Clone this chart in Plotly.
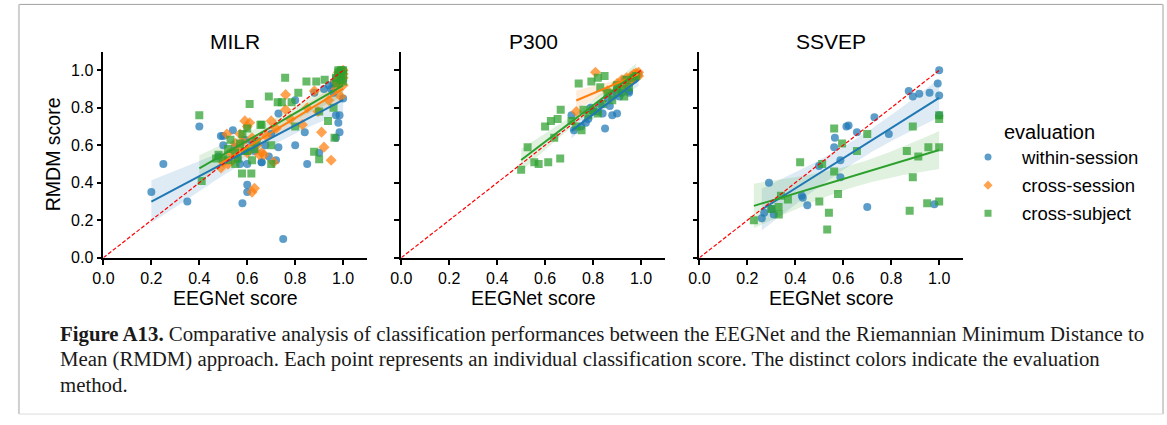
import numpy as np
import plotly.graph_objects as go

W, H = 1167, 425

# ---------------- data ----------------
panels = ["MILR", "P300", "SSVEP"]
evaluations = ["within-session", "cross-session", "cross-subject"]

milr_within_x = [0.20, 0.25, 0.35, 0.40, 0.48, 0.49, 0.50, 0.50, 0.54, 0.55, 0.58, 0.59, 0.60, 0.60, 0.60, 0.57,
                 0.66, 0.69, 0.66, 0.675, 0.72, 0.73, 0.73, 0.75, 0.80, 0.80, 0.84, 0.85, 0.90, 0.97, 0.985, 0.98,
                 0.985, 0.97, 1.00, 0.95, 0.98, 1.00, 0.96, 0.62, 0.70, 0.63, 0.56,
                 0.99, 1.00, 0.98, 0.97, 1.00, 0.99, 0.96, 0.94, 0.92, 0.88]
milr_within_y = [0.35, 0.50, 0.30, 0.70, 0.54, 0.65, 0.60, 0.65, 0.68, 0.59, 0.29, 0.63, 0.39, 0.35, 0.50, 0.50,
                 0.51, 0.54, 0.51, 0.60, 0.52, 0.59, 0.77, 0.10, 0.60, 0.84, 0.67, 0.50, 0.56, 0.76, 0.76, 0.72,
                 0.67, 0.64, 0.85, 0.90, 0.93, 0.97, 0.88, 0.62, 0.66, 0.57, 0.53,
                 0.99, 1.00, 0.98, 0.96, 0.95, 0.97, 0.93, 0.92, 0.90, 0.88]
milr_cross_session_x = [0.50, 0.515, 0.55, 0.59, 0.61, 0.60, 0.62, 0.63, 0.65, 0.66, 0.67, 0.70, 0.71, 0.76, 0.76,
                        0.83, 0.88, 0.895, 0.91, 0.92, 0.94, 0.95, 0.97, 0.98, 0.99, 1.00, 0.99, 1.00, 0.98, 0.56,
                        0.58, 0.60, 0.53, 0.64, 0.68, 0.72, 0.78, 0.85, 0.62, 0.57,
                        1.00, 0.99, 0.98, 1.00, 0.97, 0.49, 0.52, 0.54]
milr_cross_session_y = [0.51, 0.66, 0.61, 0.73, 0.72, 0.70, 0.35, 0.37, 0.55, 0.56, 0.55, 0.73, 0.51, 0.87, 0.79,
                        0.71, 0.89, 0.78, 0.67, 0.59, 0.84, 0.52, 0.90, 0.93, 0.95, 0.98, 0.86, 0.92, 0.97, 0.58,
                        0.62, 0.56, 0.56, 0.60, 0.65, 0.69, 0.74, 0.80, 0.64, 0.66,
                        1.00, 0.98, 0.99, 0.96, 0.94, 0.48, 0.50, 0.52]
milr_cross_subject_x = [0.40, 0.41, 0.48, 0.50, 0.52, 0.53, 0.55, 0.55, 0.57, 0.578, 0.58, 0.60, 0.61, 0.617, 0.60,
                        0.62, 0.63, 0.655, 0.66, 0.69, 0.70, 0.70, 0.727, 0.744, 0.758, 0.785, 0.80, 0.813, 0.847,
                        0.879, 0.888, 0.90, 0.923, 0.937, 0.964, 0.97, 0.98, 0.99, 1.00, 0.99, 1.00, 0.98, 0.97,
                        0.99, 1.00, 0.96, 0.90, 0.52, 0.56, 0.59, 0.64, 0.47]
milr_cross_subject_y = [0.76, 0.41, 0.55, 0.53, 0.58, 0.63, 0.50, 0.56, 0.61, 0.45, 0.66, 0.69, 0.82, 0.45, 0.57,
                        0.52, 0.58, 0.71, 0.71, 0.86, 0.60, 0.50, 0.83, 0.83, 0.96, 0.83, 0.70, 0.88, 0.94,
                        0.565, 0.94, 0.525, 0.95, 0.73, 0.64, 0.96, 0.99, 1.00, 1.00, 0.97, 0.98, 1.00, 0.93,
                        0.95, 0.94, 0.80, 0.78, 0.52, 0.53, 0.57, 0.62, 0.53]

p300_within_x = [0.71, 0.72, 0.75, 0.78, 0.80, 0.82, 0.84, 0.85, 0.87, 0.88, 0.90, 0.83, 0.86, 0.88, 0.90, 0.92,
                 0.95, 0.95, 0.93, 0.96, 0.98, 0.99, 0.97, 0.94, 0.91, 0.79, 0.77]
p300_within_y = [0.76, 0.68, 0.70, 0.74, 0.78, 0.78, 0.77, 0.69, 0.81, 0.76, 0.77, 0.82, 0.85, 0.87, 0.90, 0.88,
                 0.89, 0.88, 0.95, 0.96, 0.97, 0.98, 0.95, 0.92, 0.86, 0.80, 0.72]
p300_cross_session_x = [0.73, 0.81, 0.86, 0.90, 0.92, 0.94, 0.95, 0.96, 0.97, 0.98, 0.99, 0.97, 0.98, 0.96, 0.99, 0.93]
p300_cross_session_y = [0.78, 0.99, 0.89, 0.93, 0.95, 0.96, 0.95, 0.97, 0.98, 0.97, 0.99, 0.96, 0.985, 0.94, 0.97, 0.92]
p300_cross_subject_x = [0.50, 0.527, 0.555, 0.573, 0.60, 0.613, 0.624, 0.638, 0.652, 0.663, 0.665, 0.71, 0.73, 0.74,
                        0.752, 0.793, 0.82, 0.83, 0.848, 0.80, 0.82, 0.84, 0.86, 0.88, 0.90, 0.92, 0.94, 0.95,
                        0.97, 0.98, 0.76, 0.78, 0.90, 0.93]
p300_cross_subject_y = [0.47, 0.59, 0.51, 0.50, 0.70, 0.51, 0.73, 0.64, 0.74, 0.53, 0.79, 0.73, 0.70, 0.93,
                        0.68, 0.94, 0.96, 0.91, 0.97, 0.79, 0.77, 0.82, 0.88, 0.84, 0.92, 0.90, 0.95, 0.91,
                        0.96, 0.97, 0.79, 0.76, 0.88, 0.86]

ssvep_within_x = [0.26, 0.27, 0.29, 0.30, 0.31, 0.427, 0.431, 0.45, 0.499, 0.562, 0.565, 0.588, 0.588, 0.613, 0.622,
                  0.657, 0.70, 0.73, 0.79, 0.873, 0.89, 0.917, 0.96, 0.98, 1.00, 0.994, 1.00, 1.00]
ssvep_within_y = [0.21, 0.24, 0.40, 0.26, 0.23, 0.33, 0.32, 0.28, 0.49, 0.59, 0.64, 0.52, 0.43, 0.70, 0.705,
                  0.67, 0.27, 0.75, 0.66, 0.89, 0.86, 0.875, 0.88, 0.285, 1.00, 0.93, 0.865, 0.76]
ssvep_cross_session_x = []
ssvep_cross_session_y = []
ssvep_cross_subject_x = [0.227, 0.331, 0.34, 0.369, 0.42, 0.50, 0.512, 0.533, 0.54, 0.562, 0.562, 0.578, 0.595, 0.657,
                         0.70, 0.865, 0.877, 0.89, 0.89, 0.913, 0.95, 0.955, 1.00, 1.00, 1.00, 0.30, 0.33, 1.00]
ssvep_cross_subject_y = [0.20, 0.23, 0.33, 0.31, 0.51, 0.30, 0.50, 0.15, 0.24, 0.46, 0.69, 0.34, 0.61, 0.57,
                         0.66, 0.57, 0.25, 0.70, 0.43, 0.54, 0.29, 0.59, 0.74, 0.59, 0.30, 0.26, 0.27, 0.76]

data = {
    "MILR": [(milr_within_x, milr_within_y), (milr_cross_session_x, milr_cross_session_y),
             (milr_cross_subject_x, milr_cross_subject_y)],
    "P300": [(p300_within_x, p300_within_y), (p300_cross_session_x, p300_cross_session_y),
             (p300_cross_subject_x, p300_cross_subject_y)],
    "SSVEP": [(ssvep_within_x, ssvep_within_y), (ssvep_cross_session_x, ssvep_cross_session_y),
              (ssvep_cross_subject_x, ssvep_cross_subject_y)],
}

tick_vals = [0.0, 0.2, 0.4, 0.6, 0.8, 1.0]
tick_text = ["0.0", "0.2", "0.4", "0.6", "0.8", "1.0"]

caption_lines = [
    "<b>Figure A13.</b> Comparative analysis of classification performances between the EEGNet and the Riemannian Minimum Distance to",
    "Mean (RMDM) approach. Each point represents an individual classification score. The distinct colors indicate the evaluation",
    "method.",
]

# ---------------- styling ----------------
colors = ["#1f77b4", "#ff7f0e", "#2ca02c"]
fills = ["rgba(31,119,180,0.15)", "rgba(255,127,14,0.15)", "rgba(44,160,44,0.15)"]
symbols = ["circle", "diamond", "square"]
sizes = [8, 8.5, 8]
FONT = "Liberation Sans, Arial, sans-serif"

# pixel layout
x0_px = [93.3, 394.0, 695.0]
unit_x = 242.0
y0_px = 263.3
unit_y = 191.5
XMAX = 1.1


def dom_x(i):
    return [x0_px[i] / W, (x0_px[i] + XMAX * unit_x) / W]


dom_y = [1 - y0_px / H, 1 - (y0_px - XMAX * unit_y) / H]

fig = go.Figure()


def fit_band(x, y):
    x = np.asarray(x, float)
    y = np.asarray(y, float)
    n = len(x)
    b, a = np.polyfit(x, y, 1)
    xs = np.linspace(x.min(), x.max(), 100)
    yhat = a + b * xs
    resid = y - (a + b * x)
    s = np.sqrt(np.sum(resid ** 2) / (n - 2))
    sxx = np.sum((x - x.mean()) ** 2)
    se = s * np.sqrt(1.0 / n + (xs - x.mean()) ** 2 / sxx)
    t = 2.0
    return xs, yhat, yhat - t * se, yhat + t * se


for i, p in enumerate(panels):
    xa = "x" if i == 0 else f"x{i+1}"
    ya = "y" if i == 0 else f"y{i+1}"
    for k, (xv, yv) in enumerate(data[p]):
        if len(xv) < 3:
            continue
        xs, yh, lo, hi = fit_band(xv, yv)
        fig.add_trace(go.Scatter(x=np.concatenate([xs, xs[::-1]]), y=np.concatenate([hi, lo[::-1]]),
                                 fill="toself", fillcolor=fills[k], line=dict(width=0), mode="lines",
                                 hoverinfo="skip", showlegend=False, xaxis=xa, yaxis=ya))
    for k, (xv, yv) in enumerate(data[p]):
        if len(xv) == 0:
            continue
        fig.add_trace(go.Scatter(x=xv, y=yv, mode="markers",
                                 marker=dict(symbol=symbols[k], size=sizes[k], color=colors[k], opacity=0.72,
                                             line=dict(width=0)),
                                 showlegend=False, xaxis=xa, yaxis=ya))
    for k, (xv, yv) in enumerate(data[p]):
        if len(xv) < 3:
            continue
        xs, yh, lo, hi = fit_band(xv, yv)
        fig.add_trace(go.Scatter(x=xs, y=yh, mode="lines", line=dict(color=colors[k], width=2),
                                 showlegend=False, xaxis=xa, yaxis=ya))
    fig.add_trace(go.Scatter(x=[0, 1], y=[0, 1], mode="lines",
                             line=dict(color="red", width=1.2, dash="4px,2px"),
                             showlegend=False, xaxis=xa, yaxis=ya))

# legend entries
for k, name in enumerate(evaluations):
    fig.add_trace(go.Scatter(x=[None], y=[None], mode="markers", name=name, legendgroup=name,
                             marker=dict(symbol=symbols[k], size=7, color=colors[k], opacity=0.72,
                                         line=dict(width=0)),
                             xaxis="x", yaxis="y"))

axis_common = dict(range=[0, XMAX], showline=True, linecolor="black", linewidth=1.8, ticks="outside",
                   ticklen=5, tickwidth=1.6, tickcolor="black", showgrid=False, zeroline=False,
                   tickvals=tick_vals, ticktext=tick_text, tickfont=dict(family=FONT, size=16, color="black"))

layout = dict(width=W, height=H, margin=dict(l=0, r=0, t=0, b=0), paper_bgcolor="white", plot_bgcolor="white",
              font=dict(family=FONT, color="black"))
for i in range(3):
    xs_name = "xaxis" if i == 0 else f"xaxis{i+1}"
    ys_name = "yaxis" if i == 0 else f"yaxis{i+1}"
    layout[xs_name] = dict(axis_common, domain=dom_x(i), anchor="y" if i == 0 else f"y{i+1}")
    yax = dict(axis_common, domain=dom_y, anchor="x" if i == 0 else f"x{i+1}")
    if i > 0:
        yax["showticklabels"] = False
    layout[ys_name] = yax

fig.update_layout(**layout)

ann = []
for i, p in enumerate(panels):
    cx = (x0_px[i] + XMAX * unit_x / 2) / W
    ann.append(dict(x=cx, y=1 - 42 / H, xref="paper", yref="paper", text=p, showarrow=False,
                    font=dict(family=FONT, size=21, color="black"), xanchor="center", yanchor="middle"))
    ann.append(dict(x=cx, y=1 - 304 / H, xref="paper", yref="paper", text="EEGNet score", showarrow=False,
                    font=dict(family=FONT, size=19.5, color="black"), xanchor="center", yanchor="middle"))
ann.append(dict(x=42 / W, y=1 - 158 / H, xref="paper", yref="paper", text="RMDM score", showarrow=False,
                textangle=-90, font=dict(family=FONT, size=19.5, color="black"), xanchor="center", yanchor="middle"))
for j, line in enumerate(caption_lines):
    ann.append(dict(x=47 / W, y=1 - (341 + 26 * j) / H, xref="paper", yref="paper", text=line, showarrow=False,
                    font=dict(family="Liberation Serif, Times New Roman, serif", size=20.8, color="#1a1a1a"),
                    xanchor="left", yanchor="middle"))
fig.update_layout(annotations=ann)

fig.update_layout(legend=dict(x=952 / W, y=1 - 115 / H, xanchor="left", yanchor="top",
                              title=dict(text="evaluation", side="top center",
                                         font=dict(family=FONT, size=20, color="black")),
                              font=dict(family=FONT, size=18.5, color="black"), tracegroupgap=1,
                              bgcolor="rgba(0,0,0,0)", itemwidth=58))

# figure frame
shapes = [
    dict(type="line", xref="paper", yref="paper", x0=8 / W, x1=1163 / W, y0=1 - 4.5 / H, y1=1 - 4.5 / H,
         line=dict(color="#a0a0a0", width=1)),
    dict(type="line", xref="paper", yref="paper", x0=8 / W, x1=8 / W, y0=1 - 4.5 / H, y1=1 - 423 / H,
         line=dict(color="#cfcfcf", width=2)),
    dict(type="line", xref="paper", yref="paper", x0=1163 / W, x1=1163 / W, y0=1 - 4.5 / H, y1=1 - 423 / H,
         line=dict(color="#cfcfcf", width=2)),
    dict(type="line", xref="paper", yref="paper", x0=8 / W, x1=1163 / W, y0=1 - 423 / H, y1=1 - 423 / H,
         line=dict(color="#dcdcdc", width=1)),
]
fig.update_layout(shapes=shapes)

fig.write_html("out.html")
